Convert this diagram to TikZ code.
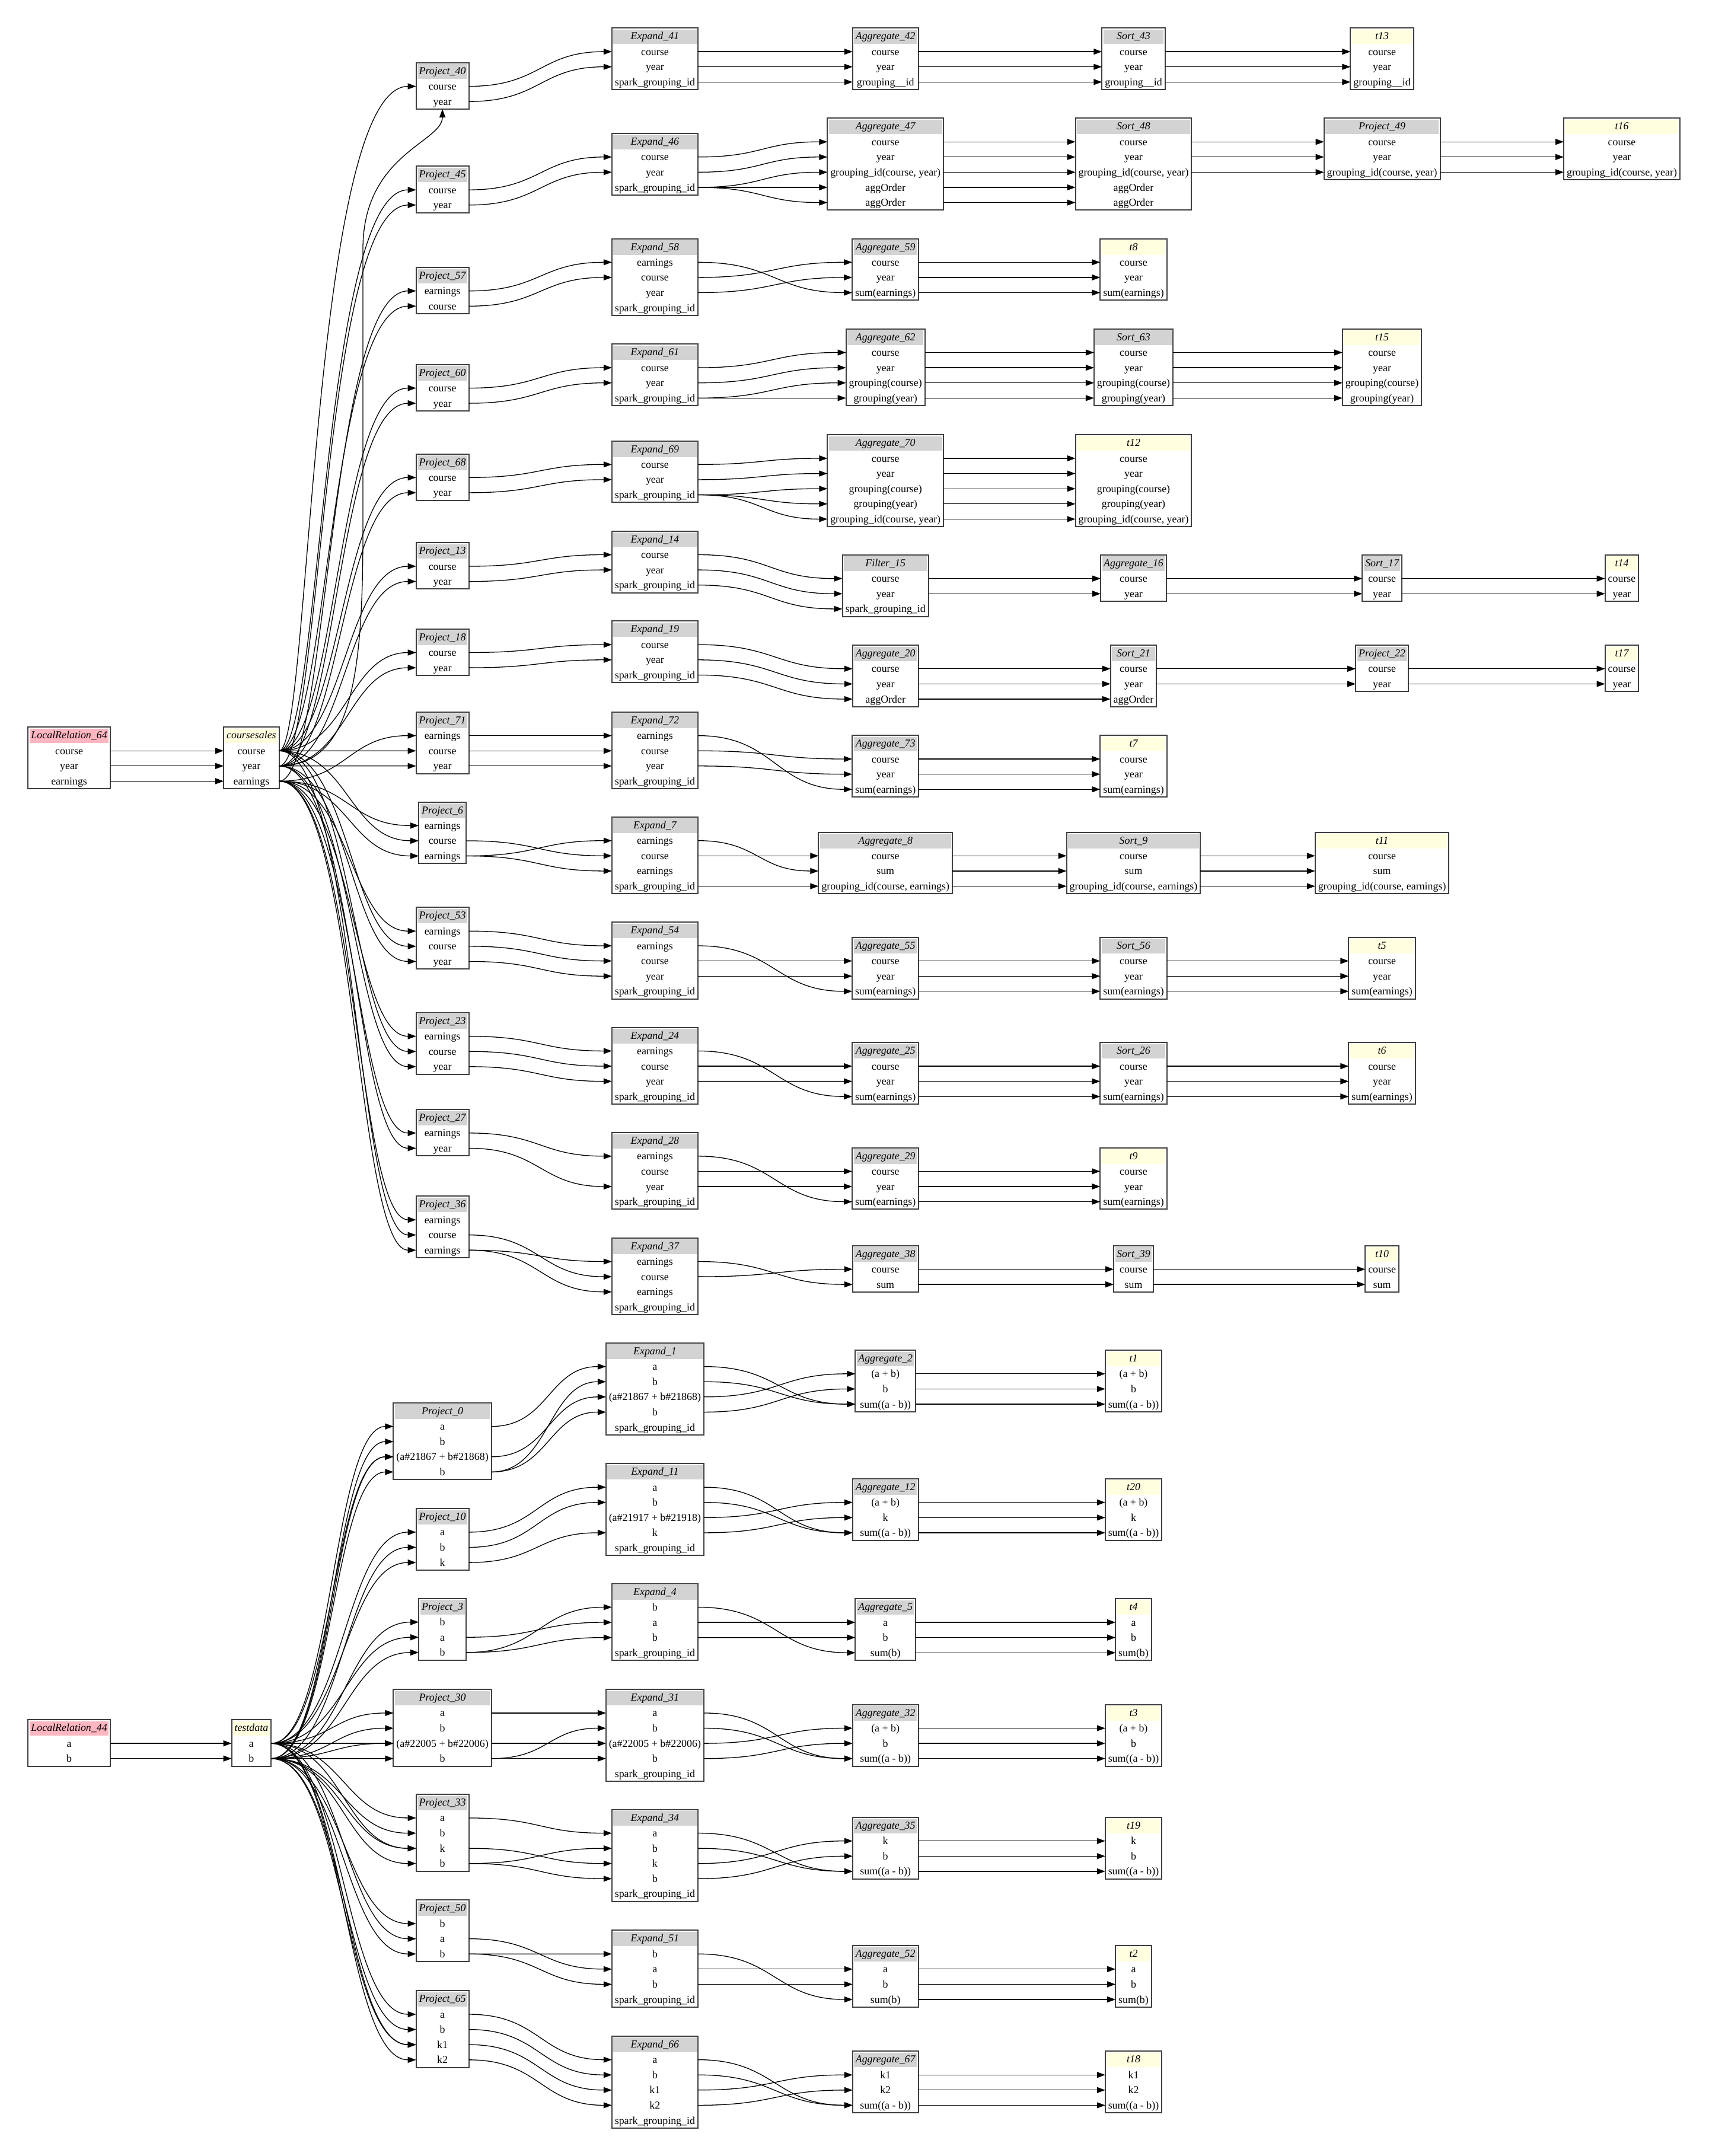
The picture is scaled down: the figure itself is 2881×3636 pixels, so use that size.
\documentclass[tikz,border=0pt]{standalone}
\usepackage{fontspec}
\setmainfont{Liberation Serif}
\usetikzlibrary{arrows.meta,calc}
\pgfdeclarelayer{background}
\pgfsetlayers{background,main}
\definecolor{hdrgray}{HTML}{D3D3D3}
\definecolor{hdrpink}{HTML}{FFB6C1}
\definecolor{hdryel}{HTML}{FFFFE0}
\definecolor{bordc}{HTML}{404040}
\newdimen\recw
\newcount\recn
\newcommand\recfont{\fontsize{17.9}{21}\selectfont}
\newcommand\SG{spark\_grouping\_id}
\def\rkA{116.6}\def\rkB{423.9}\def\rkC{746.1}\def\rkD{1104.4}
\def\rkE{1493.2}\def\rkF{1911.5}\def\rkG{2330.6}\def\rkH{2735}
\makeatletter
% record node: name, center x, top y, header colour, header, rows
\newcommand\rec[6]{%
  \node[rectxt,font=\recfont\itshape] (#1-h) at (#2,#3+19.5) {#5};
  \pgfpointdiff{\pgfpointanchor{#1-h}{west}}{\pgfpointanchor{#1-h}{east}}%
  \global\recw=\pgf@x
  \global\recn=0
  \foreach \r [count=\i] in {#6}{%
    \pgfmathsetmacro\yc{#3+39.8+25.6*(\i-1)}%
    \node[rectxt] (#1-r\i) at (#2,\yc+6) {\r};
    \pgfpointdiff{\pgfpointanchor{#1-r\i}{west}}{\pgfpointanchor{#1-r\i}{east}}%
    \ifdim\pgf@x>\recw\global\recw=\pgf@x\fi
    \global\advance\recn by 1\relax
  }%
  \pgfmathsetmacro\hw{0.5*\the\recw+5}%
  \pgfmathsetmacro\xl{#2-\hw}%
  \pgfmathsetmacro\xr{#2+\hw}%
  \pgfmathsetmacro\hh{27+25.6*\the\recn}%
  \pgfmathsetmacro\yb{#3+\hh}%
  \node[recbord,anchor=north,minimum width=2*\hw,minimum height=\hh] (#1) at (#2,#3) {};
  \begin{pgfonlayer}{background}\fill[#4] (\xl+2.5,#3+2.5) rectangle (\xr-2.5,#3+27);\end{pgfonlayer}
  \foreach \i in {1,...,\the\recn}{%
    \pgfmathsetmacro\yc{#3+39.8+25.6*(\i-1)}%
    \coordinate (#1-\i-w) at (\xl,\yc);
    \coordinate (#1-\i-e) at (\xr,\yc);
  }%
  \coordinate (#1-s) at (#2,\yb);
}
\makeatother
% connector from port to port; #3 = share of the horizontal gap used by the first control
\newcommand\lkf[3]{\draw[edge] let \p1=(#1), \p2=(#2), \n1={#3*(\x2-\x1)}, \n2={(1-#3)*(\x2-\x1)} in (\p1) .. controls +(\n1,0pt) and +(-\n2,0pt) .. (\p2);}
\newcommand\lks[3]{\foreach \ua/\ub in {#3}{\lkf{#1-\ua-e}{#2-\ub-w}{0.5}}}
\newcommand\lksf[4]{\foreach \ua/\ub in {#4}{\lkf{#1-\ua-e}{#2-\ub-w}{#3}}}
\begin{document}
\begin{tikzpicture}[x=1pt,y=-1pt,
  recbord/.style={draw=bordc,line width=2pt,inner sep=0pt,outer sep=0pt},
  rectxt/.style={inner sep=0pt,outer sep=0pt,anchor=base,font=\recfont},
  edge/.style={line width=1.3pt,-{Triangle[length=14pt,width=10pt]}}]
\useasboundingbox (0,0) rectangle (2881,3636);
% ---------------- coursesales part ----------------
\rec{LR64}{\rkA}{1226.4}{hdrpink}{LocalRelation\_64}{course,year,earnings}
\rec{cs}{\rkB}{1226.4}{hdryel}{coursesales}{course,year,earnings}
% row 1
\rec{P40}{\rkC}{105.8}{hdrgray}{Project\_40}{course,year}
\rec{E41}{\rkD}{47.3}{hdrgray}{Expand\_41}{course,year,\SG}
\rec{A42}{\rkE}{47.3}{hdrgray}{Aggregate\_42}{course,year,grouping\_\_id}
\rec{S43}{\rkF}{47.3}{hdrgray}{Sort\_43}{course,year,grouping\_\_id}
\rec{t13}{\rkG}{47.3}{hdryel}{t13}{course,year,grouping\_\_id}
% row 2
\rec{P45}{\rkC}{280.4}{hdrgray}{Project\_45}{course,year}
\rec{E46}{\rkD}{225}{hdrgray}{Expand\_46}{course,year,\SG}
\rec{A47}{\rkE}{199.4}{hdrgray}{Aggregate\_47}{course,year,{grouping\_id(course, year)},aggOrder,aggOrder}
\rec{S48}{\rkF}{199.4}{hdrgray}{Sort\_48}{course,year,{grouping\_id(course, year)},aggOrder,aggOrder}
\rec{P49}{\rkG}{199.4}{hdrgray}{Project\_49}{course,year,{grouping\_id(course, year)}}
\rec{t16}{\rkH}{199.4}{hdryel}{t16}{course,year,{grouping\_id(course, year)}}
% row 3
\rec{P57}{\rkC}{450.9}{hdrgray}{Project\_57}{earnings,course}
\rec{E58}{\rkD}{402.5}{hdrgray}{Expand\_58}{earnings,course,year,\SG}
\rec{A59}{\rkE}{402.5}{hdrgray}{Aggregate\_59}{course,year,{sum(earnings)}}
\rec{t8}{\rkF}{402.5}{hdryel}{t8}{course,year,{sum(earnings)}}
% row 4
\rec{P60}{\rkC}{614.7}{hdrgray}{Project\_60}{course,year}
\rec{E61}{\rkD}{580.3}{hdrgray}{Expand\_61}{course,year,\SG}
\rec{A62}{\rkE}{554.7}{hdrgray}{Aggregate\_62}{course,year,{grouping(course)},{grouping(year)}}
\rec{S63}{\rkF}{554.7}{hdrgray}{Sort\_63}{course,year,{grouping(course)},{grouping(year)}}
\rec{t15}{\rkG}{554.7}{hdryel}{t15}{course,year,{grouping(course)},{grouping(year)}}
% row 5
\rec{P68}{\rkC}{765.5}{hdrgray}{Project\_68}{course,year}
\rec{E69}{\rkD}{743.5}{hdrgray}{Expand\_69}{course,year,\SG}
\rec{A70}{\rkE}{733.2}{hdrgray}{Aggregate\_70}{course,year,{grouping(course)},{grouping(year)},{grouping\_id(course, year)}}
\rec{t12}{\rkF}{733.2}{hdryel}{t12}{course,year,{grouping(course)},{grouping(year)},{grouping\_id(course, year)}}
% row 6
\rec{P13}{\rkC}{915.2}{hdrgray}{Project\_13}{course,year}
\rec{E14}{\rkD}{895.7}{hdrgray}{Expand\_14}{course,year,\SG}
\rec{F15}{\rkE}{935.9}{hdrgray}{Filter\_15}{course,year,\SG}
\rec{A16}{\rkF}{935.9}{hdrgray}{Aggregate\_16}{course,year}
\rec{S17}{\rkG}{935.9}{hdrgray}{Sort\_17}{course,year}
\rec{t14}{\rkH}{935.9}{hdryel}{t14}{course,year}
% row 7
\rec{P18}{\rkC}{1060.7}{hdrgray}{Project\_18}{course,year}
\rec{E19}{\rkD}{1047.4}{hdrgray}{Expand\_19}{course,year,\SG}
\rec{A20}{\rkE}{1088}{hdrgray}{Aggregate\_20}{course,year,aggOrder}
\rec{S21}{\rkF}{1088}{hdrgray}{Sort\_21}{course,year,aggOrder}
\rec{P22}{\rkG}{1088}{hdrgray}{Project\_22}{course,year}
\rec{t17}{\rkH}{1088}{hdryel}{t17}{course,year}
% row 8
\rec{P71}{\rkC}{1200.8}{hdrgray}{Project\_71}{earnings,course,year}
\rec{E72}{\rkD}{1200.8}{hdrgray}{Expand\_72}{earnings,course,year,\SG}
\rec{A73}{\rkE}{1240.2}{hdrgray}{Aggregate\_73}{course,year,{sum(earnings)}}
\rec{t7}{\rkF}{1240.2}{hdryel}{t7}{course,year,{sum(earnings)}}
% row 9
\rec{P6}{\rkC}{1352.5}{hdrgray}{Project\_6}{earnings,course,earnings}
\rec{E7}{\rkD}{1377.9}{hdrgray}{Expand\_7}{earnings,course,earnings,\SG}
\rec{A8}{\rkE}{1403.5}{hdrgray}{Aggregate\_8}{course,sum,{grouping\_id(course, earnings)}}
\rec{S9}{\rkF}{1403.5}{hdrgray}{Sort\_9}{course,sum,{grouping\_id(course, earnings)}}
\rec{t11}{\rkG}{1403.5}{hdryel}{t11}{course,sum,{grouping\_id(course, earnings)}}
% row 10
\rec{P53}{\rkC}{1530.4}{hdrgray}{Project\_53}{earnings,course,year}
\rec{E54}{\rkD}{1555.2}{hdrgray}{Expand\_54}{earnings,course,year,\SG}
\rec{A55}{\rkE}{1580.8}{hdrgray}{Aggregate\_55}{course,year,{sum(earnings)}}
\rec{S56}{\rkF}{1580.8}{hdrgray}{Sort\_56}{course,year,{sum(earnings)}}
\rec{t5}{\rkG}{1580.8}{hdryel}{t5}{course,year,{sum(earnings)}}
% row 11
\rec{P23}{\rkC}{1707.8}{hdrgray}{Project\_23}{earnings,course,year}
\rec{E24}{\rkD}{1732.6}{hdrgray}{Expand\_24}{earnings,course,year,\SG}
\rec{A25}{\rkE}{1758.2}{hdrgray}{Aggregate\_25}{course,year,{sum(earnings)}}
\rec{S26}{\rkF}{1758.2}{hdrgray}{Sort\_26}{course,year,{sum(earnings)}}
\rec{t6}{\rkG}{1758.2}{hdryel}{t6}{course,year,{sum(earnings)}}
% row 12
\rec{P27}{\rkC}{1871}{hdrgray}{Project\_27}{earnings,year}
\rec{E28}{\rkD}{1910}{hdrgray}{Expand\_28}{earnings,course,year,\SG}
\rec{A29}{\rkE}{1935.6}{hdrgray}{Aggregate\_29}{course,year,{sum(earnings)}}
\rec{t9}{\rkF}{1935.6}{hdryel}{t9}{course,year,{sum(earnings)}}
% row 13
\rec{P36}{\rkC}{2017.3}{hdrgray}{Project\_36}{earnings,course,earnings}
\rec{E37}{\rkD}{2087.7}{hdrgray}{Expand\_37}{earnings,course,earnings,\SG}
\rec{A38}{\rkE}{2100.7}{hdrgray}{Aggregate\_38}{course,sum}
\rec{S39}{\rkF}{2100.7}{hdrgray}{Sort\_39}{course,sum}
\rec{t10}{\rkG}{2100.7}{hdryel}{t10}{course,sum}
% ---------------- testdata part ----------------
\rec{LR44}{\rkA}{2900.3}{hdrpink}{LocalRelation\_44}{a,b}
\rec{td}{\rkB}{2900.3}{hdryel}{testdata}{a,b}
\rec{P0}{\rkC}{2365.8}{hdrgray}{Project\_0}{a,b,{(a\#21867 + b\#21868)},b}
\rec{E1}{\rkD}{2264.8}{hdrgray}{Expand\_1}{a,b,{(a\#21867 + b\#21868)},b,\SG}
\rec{A2}{\rkE}{2277}{hdrgray}{Aggregate\_2}{{(a + b)},b,{sum((a - b))}}
\rec{t1}{\rkF}{2277}{hdryel}{t1}{{(a + b)},b,{sum((a - b))}}
\rec{P10}{\rkC}{2544.1}{hdrgray}{Project\_10}{a,b,k}
\rec{E11}{\rkD}{2468.3}{hdrgray}{Expand\_11}{a,b,{(a\#21917 + b\#21918)},k,\SG}
\rec{A12}{\rkE}{2493.9}{hdrgray}{Aggregate\_12}{{(a + b)},k,{sum((a - b))}}
\rec{t20}{\rkF}{2493.9}{hdryel}{t20}{{(a + b)},k,{sum((a - b))}}
\rec{P3}{\rkC}{2695.8}{hdrgray}{Project\_3}{b,a,b}
\rec{E4}{\rkD}{2670.6}{hdrgray}{Expand\_4}{b,a,b,\SG}
\rec{A5}{\rkE}{2696.2}{hdrgray}{Aggregate\_5}{a,b,{sum(b)}}
\rec{t4}{\rkF}{2696.2}{hdryel}{t4}{a,b,{sum(b)}}
\rec{P30}{\rkC}{2849.1}{hdrgray}{Project\_30}{a,b,{(a\#22005 + b\#22006)},b}
\rec{E31}{\rkD}{2849.1}{hdrgray}{Expand\_31}{a,b,{(a\#22005 + b\#22006)},b,\SG}
\rec{A32}{\rkE}{2874.7}{hdrgray}{Aggregate\_32}{{(a + b)},b,{sum((a - b))}}
\rec{t3}{\rkF}{2874.7}{hdryel}{t3}{{(a + b)},b,{sum((a - b))}}
\rec{P33}{\rkC}{3026.1}{hdrgray}{Project\_33}{a,b,k,b}
\rec{E34}{\rkD}{3051.7}{hdrgray}{Expand\_34}{a,b,k,b,\SG}
\rec{A35}{\rkE}{3064.9}{hdrgray}{Aggregate\_35}{k,b,{sum((a - b))}}
\rec{t19}{\rkF}{3064.9}{hdryel}{t19}{k,b,{sum((a - b))}}
\rec{P50}{\rkC}{3204.2}{hdrgray}{Project\_50}{b,a,b}
\rec{E51}{\rkD}{3255.4}{hdrgray}{Expand\_51}{b,a,b,\SG}
\rec{A52}{\rkE}{3281}{hdrgray}{Aggregate\_52}{a,b,{sum(b)}}
\rec{t2}{\rkF}{3281}{hdryel}{t2}{a,b,{sum(b)}}
\rec{P65}{\rkC}{3357.2}{hdrgray}{Project\_65}{a,b,k1,k2}
\rec{E66}{\rkD}{3433.8}{hdrgray}{Expand\_66}{a,b,k1,k2,\SG}
\rec{A67}{\rkE}{3459.4}{hdrgray}{Aggregate\_67}{k1,k2,{sum((a - b))}}
\rec{t18}{\rkF}{3459.4}{hdryel}{t18}{k1,k2,{sum((a - b))}}
% ---------------- edges: sources ----------------
\lks{LR64}{cs}{1/1,2/2,3/3}
\lks{LR44}{td}{1/1,2/2}
% coursesales fan
\lksf{cs}{P40}{0.23}{1/1}
\draw[edge] (cs-2-e) .. controls (590,1291) and (612,1150) .. (612,900) -- (612,420) .. controls (612,260) and (\rkC,240) .. (P40-s);
\lksf{cs}{P45}{0.31}{1/1,2/2}
\lksf{cs}{P57}{0.36}{3/1,1/2}
\lksf{cs}{P60}{0.42}{1/1,2/2}
\lksf{cs}{P68}{0.45}{1/1,2/2}
\lksf{cs}{P13}{0.48}{1/1,2/2}
\lksf{cs}{P18}{0.5}{1/1,2/2}
\lksf{cs}{P71}{0.5}{3/1,1/2,2/3}
\lksf{cs}{P6}{0.5}{3/1,1/2,3/3}
\lksf{cs}{P53}{0.52}{3/1,1/2,2/3}
\lksf{cs}{P23}{0.54}{3/1,1/2,2/3}
\lksf{cs}{P27}{0.55}{3/1,2/2}
\lksf{cs}{P36}{0.56}{3/1,1/2,3/3}
% testdata fan
\lks{td}{P0}{1/1,2/2,1/3,2/3,2/4}
\lks{td}{P10}{1/1,2/2,1/3}
\lks{td}{P3}{2/1,1/2,2/3}
\lks{td}{P30}{1/1,2/2,1/3,2/3,2/4}
\lks{td}{P33}{1/1,2/2,1/3,2/3,2/4}
\lks{td}{P50}{2/1,1/2,2/3}
\lks{td}{P65}{1/1,2/2,1/3,2/3,1/4}
% ---------------- edges: chains ----------------
\lks{P40}{E41}{1/1,2/2}
\lks{E41}{A42}{1/1,2/2,3/3}
\lks{A42}{S43}{1/1,2/2,3/3}
\lks{S43}{t13}{1/1,2/2,3/3}
\lks{P45}{E46}{1/1,2/2}
\lks{E46}{A47}{1/1,2/2,3/3,3/4,3/5}
\lks{A47}{S48}{1/1,2/2,3/3,4/4,5/5}
\lks{S48}{P49}{1/1,2/2,3/3}
\lks{P49}{t16}{1/1,2/2,3/3}
\lks{P57}{E58}{1/1,2/2}
\lks{E58}{A59}{1/3,2/1,3/2}
\lks{A59}{t8}{1/1,2/2,3/3}
\lks{P60}{E61}{1/1,2/2}
\lks{E61}{A62}{1/1,2/2,3/3,3/4}
\lks{A62}{S63}{1/1,2/2,3/3,4/4}
\lks{S63}{t15}{1/1,2/2,3/3,4/4}
\lks{P68}{E69}{1/1,2/2}
\lks{E69}{A70}{1/1,2/2,3/3,3/4,3/5}
\lks{A70}{t12}{1/1,2/2,3/3,4/4,5/5}
\lks{P13}{E14}{1/1,2/2}
\lks{E14}{F15}{1/1,2/2,3/3}
\lks{F15}{A16}{1/1,2/2}
\lks{A16}{S17}{1/1,2/2}
\lks{S17}{t14}{1/1,2/2}
\lks{P18}{E19}{1/1,2/2}
\lks{E19}{A20}{1/1,2/2,3/3}
\lks{A20}{S21}{1/1,2/2,3/3}
\lks{S21}{P22}{1/1,2/2}
\lks{P22}{t17}{1/1,2/2}
\lks{P71}{E72}{1/1,2/2,3/3}
\lks{E72}{A73}{1/3,2/1,3/2}
\lks{A73}{t7}{1/1,2/2,3/3}
\lks{P6}{E7}{2/2,3/1,3/3}
\lks{E7}{A8}{1/2,2/1,4/3}
\lks{A8}{S9}{1/1,2/2,3/3}
\lks{S9}{t11}{1/1,2/2,3/3}
\lks{P53}{E54}{1/1,2/2,3/3}
\lks{E54}{A55}{1/3,2/1,3/2}
\lks{A55}{S56}{1/1,2/2,3/3}
\lks{S56}{t5}{1/1,2/2,3/3}
\lks{P23}{E24}{1/1,2/2,3/3}
\lks{E24}{A25}{1/3,2/1,3/2}
\lks{A25}{S26}{1/1,2/2,3/3}
\lks{S26}{t6}{1/1,2/2,3/3}
\lks{P27}{E28}{1/1,2/3}
\lks{E28}{A29}{1/3,2/1,3/2}
\lks{A29}{t9}{1/1,2/2,3/3}
\lks{P36}{E37}{2/2,3/1,3/3}
\lks{E37}{A38}{1/2,2/1}
\lks{A38}{S39}{1/1,2/2}
\lks{S39}{t10}{1/1,2/2}
% bottom chains
\lks{P0}{E1}{1/1,4/2,3/3,4/4}
\lks{E1}{A2}{1/3,2/3,3/1,4/2}
\lks{A2}{t1}{1/1,2/2,3/3}
\lks{P10}{E11}{1/1,2/2,3/4}
\lks{E11}{A12}{1/3,2/3,3/1,4/2}
\lks{A12}{t20}{1/1,2/2,3/3}
\lks{P3}{E4}{2/2,3/1,3/3}
\lks{E4}{A5}{1/3,2/1,3/2}
\lks{A5}{t4}{1/1,2/2,3/3}
\lks{P30}{E31}{1/1,3/3,4/2,4/4}
\lks{E31}{A32}{1/3,2/3,3/1,4/2}
\lks{A32}{t3}{1/1,2/2,3/3}
\lks{P33}{E34}{1/1,3/3,4/2,4/4}
\lks{E34}{A35}{1/3,2/3,3/1,4/2}
\lks{A35}{t19}{1/1,2/2,3/3}
\lks{P50}{E51}{2/2,3/1,3/3}
\lks{E51}{A52}{1/3,2/1,3/2}
\lks{A52}{t2}{1/1,2/2,3/3}
\lks{P65}{E66}{1/1,2/2,3/3,4/4}
\lks{E66}{A67}{1/3,2/3,3/1,4/2}
\lks{A67}{t18}{1/1,2/2,3/3}
\end{tikzpicture}
\end{document}
